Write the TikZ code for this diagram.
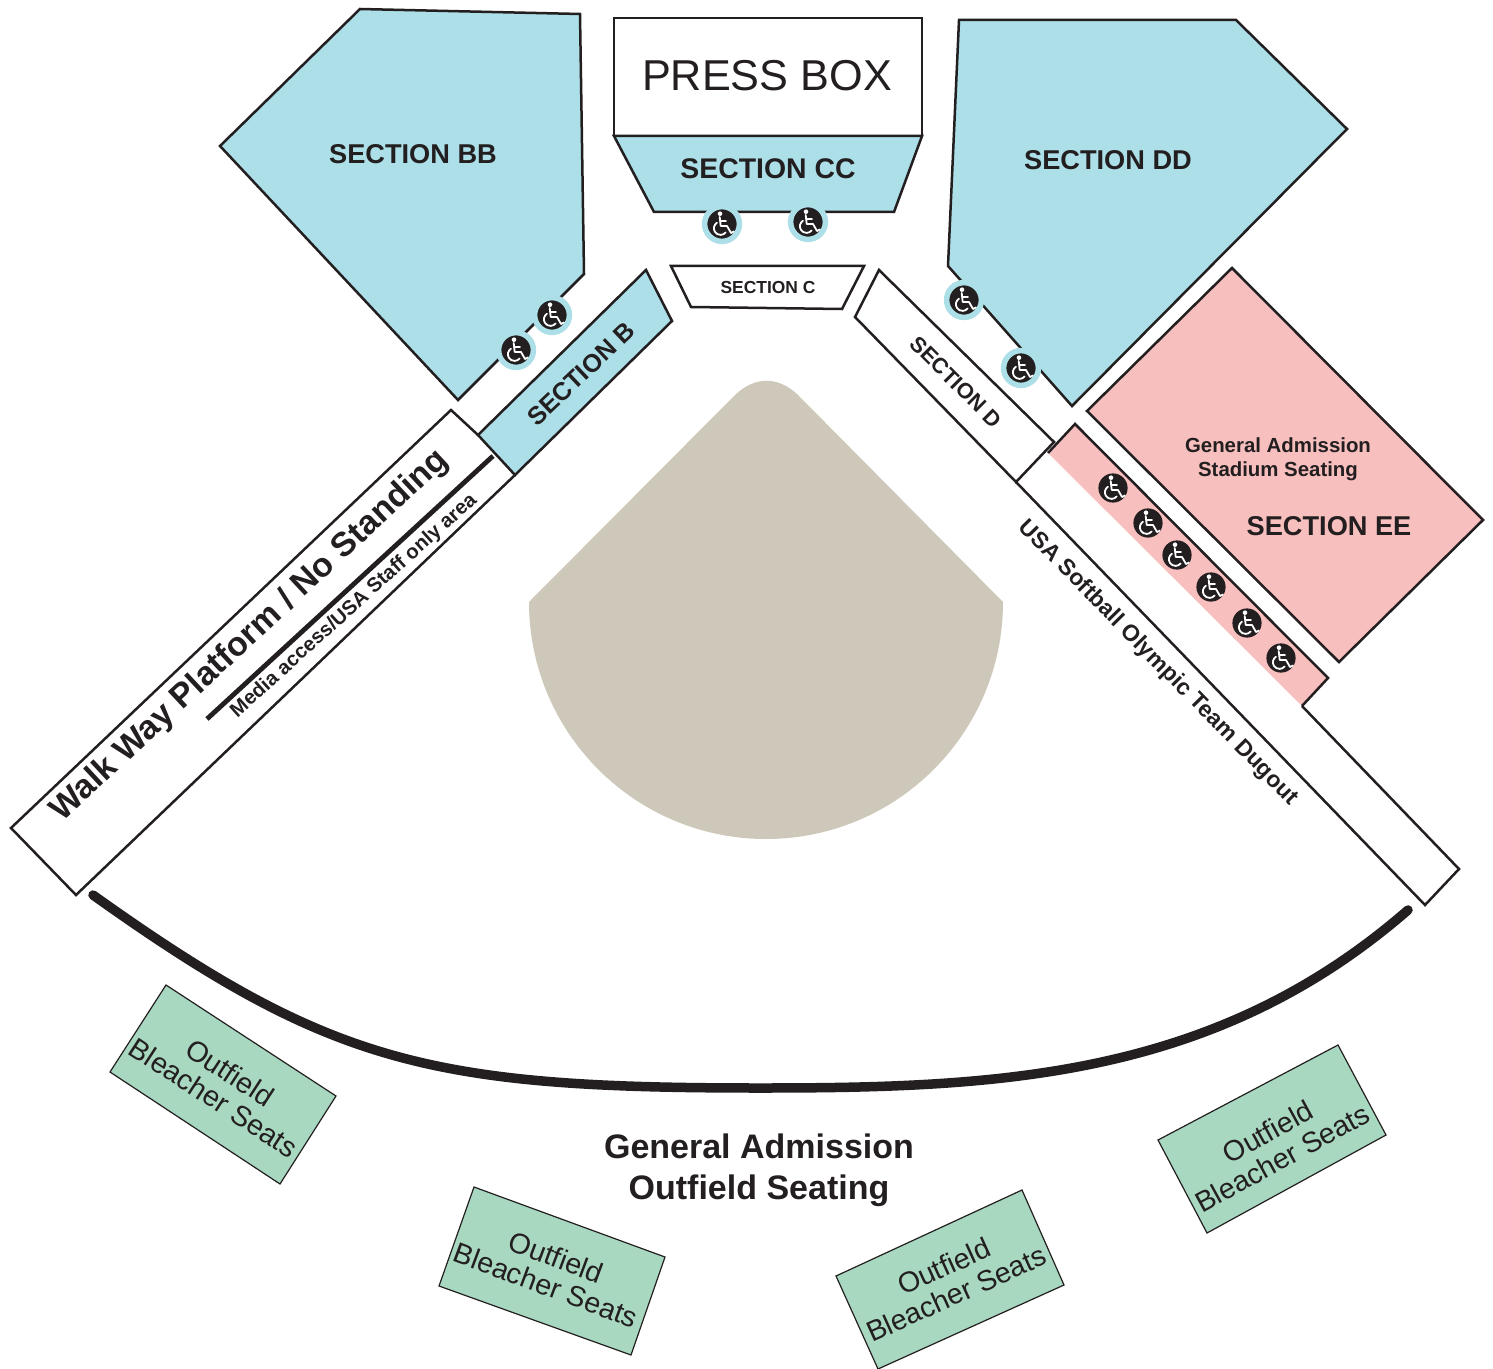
\documentclass[tikz,border=0pt]{standalone}
\usepackage{fontspec}
\setmainfont{Liberation Sans}
\newcommand{\wheelmark}{%
    \begin{scope}[shift={(path picture bounding box.center)}, white, line width=0.9pt, line cap=round, line join=round]
        \fill (-2,-10.3) circle[radius=2.3];
        \draw (-2.3,-7) -- (-1.3,2) -- (5,2) -- (9,9) -- (12,7.5);
        \draw (-1.6,-3.3) -- (4,-3.3);
        \draw (-5,-1.3) arc[start angle=238, end angle=39, radius=6.6];
    \end{scope}}
\definecolor{seatblue}{HTML}{ACDFE8}
\definecolor{seatpink}{HTML}{F8BFBF}
\definecolor{seatgreen}{HTML}{A8D8C0}
\definecolor{fieldtan}{HTML}{CEC8BA}
\definecolor{inkdark}{HTML}{231F20}
\tikzset{
    section/.style={draw=inkdark, line width=1.25pt, line join=miter},
    wheel/.style={circle, fill=inkdark, inner sep=0pt, minimum size=14.6pt, path picture={\wheelmark}},
    wheelring/.style={wheel, draw=seatblue, line width=2.75pt, minimum size=17.4pt},
    bleacher/.style={section, fill=seatgreen, line width=0.6pt},
    bleachertext/.style={text=inkdark, align=center, font=\fontsize{14.3}{15}\selectfont},
    labelbold/.style={text=inkdark, align=center, font=\bfseries\fontsize{#1}{#1}\selectfont},
}
\begin{document}
\begin{tikzpicture}[x=0.5pt, y=-0.5pt]
    \useasboundingbox (0,0) rectangle (1493,1369);

    \draw[section, fill=seatblue] (360,9) -- (580,14) -- (584,274) -- (458,400) -- (220,146) -- cycle;
    \draw[section, fill=white] (614,18) -- (922,18) -- (922,136) -- (614,136) -- cycle;
    \draw[section, fill=seatblue] (614,136) -- (922,136) -- (894,212) -- (654,212) -- cycle;
    \draw[section, fill=seatblue] (959,20) -- (1236,20) -- (1347,129) -- (1072,406) -- (948,266) -- cycle;
    \draw[section, fill=white] (671,266) -- (864,266) -- (842,309) -- (691,307) -- cycle;
    \draw[section, fill=seatblue] (646,270) -- (672,321) -- (515,475) -- (478,435) -- cycle;
    \draw[section, fill=white] (879,270) -- (1054,442) -- (1016,482) -- (855,317) -- cycle;
    \draw[section, fill=seatpink] (1232,268) -- (1483,520) -- (1339,662) -- (1087,411) -- cycle;
    \fill[seatpink] (1075,424) -- (1328,678) -- (1302,706) -- (1048,453) -- cycle;
    \draw[section] (1048,453) -- (1075,424) -- (1328,678) -- (1302,706);
    \draw[section] (1016,482) -- (1425,905) -- (1459,869) -- (1302,706);
    \draw[section] (478,435) -- (451,410) -- (11,828) -- (76,895) -- (515,475);
    \draw[inkdark, line width=2.4pt] (207,719) -- (493,456);

    \fill[fieldtan] (529,602) -- (735,395) .. controls (755,376) and (778,376) .. (798,395) -- (1003,602) arc[start angle=0, end angle=180, radius=237] -- cycle;

    \draw[inkdark, line width=4.75pt, line cap=round] (93,895) .. controls (330,1064) and (430,1088) .. (760,1088) .. controls (1000,1088) and (1215,1078) .. (1408,910);

    \draw[bleacher] (166,985) -- (336,1096) -- (280,1184) -- (110,1072) -- cycle;
    \draw[bleacher] (474,1187) -- (665,1257) -- (631,1355) -- (439,1286) -- cycle;
    \draw[bleacher] (1022,1190) -- (1064,1285) -- (878,1369) -- (836,1276) -- cycle;
    \draw[bleacher] (1338,1045) -- (1386,1135) -- (1207,1233) -- (1158,1140) -- cycle;

    \node[labelbold=13.6] (sectionbb) at (413,154) {SECTION BB};
    \node[text=inkdark, font=\fontsize{21.6}{21.6}\selectfont] (pressbox) at (767,76) {PRESS BOX};
    \node[labelbold=14.2] (sectioncc) at (768,169) {SECTION CC};
    \node[labelbold=13.6] (sectiondd) at (1108,160) {SECTION DD};
    \node[labelbold=8.7] (sectionc) at (768,288) {SECTION C};
    \node[labelbold=12.6, rotate=43.5] (sectionb) at (581,374) {SECTION B};
    \node[labelbold=10.9, rotate=-45] (sectiond) at (956,382) {SECTION D};
    \node[labelbold=10.2] (stadiumseats) at (1278,459) {General Admission\\[2pt]Stadium Seating};
    \node[labelbold=13.6] (sectionee) at (1329,526) {SECTION EE};
    \node[labelbold=16.9, rotate=43] (walkway) at (250,636) {Walk Way Platform / No Standing};
    \node[labelbold=10.1, rotate=42] (media) at (354,606) {Media access/USA Staff only area};
    \node[labelbold=11.5, rotate=-45.5] (dugout) at (1158,663) {USA Softball Olympic Team Dugout};
    \node[labelbold=17] (outfield) at (759,1170) {General Admission\\[3.5pt]Outfield Seating};

    \node[bleachertext, rotate=-33] (bleachera) at (222,1085) {Outfield\\Bleacher Seats};
    \node[bleachertext, rotate=-20.5] (bleacherb) at (551,1271) {Outfield\\Bleacher Seats};
    \node[bleachertext, rotate=24.3] (bleacherc) at (950,1280) {Outfield\\Bleacher Seats};
    \node[bleachertext, rotate=28.7] (bleacherd) at (1275,1145) {Outfield\\Bleacher Seats};

    \node[wheelring] (wheelcca) at (722,224) {};
    \node[wheelring] (wheelccb) at (808,222) {};
    \node[wheelring] (wheelbba) at (552,315) {};
    \node[wheelring] (wheelbbb) at (516,350) {};
    \node[wheelring] (wheeldda) at (964,300) {};
    \node[wheelring] (wheelddb) at (1021,368) {};
    \node[wheel] (wheeleea) at (1113,488) {};
    \node[wheel] (wheeleeb) at (1148,523) {};
    \node[wheel] (wheeleec) at (1177,555) {};
    \node[wheel] (wheeleed) at (1211,587) {};
    \node[wheel] (wheeleee) at (1247,623) {};
    \node[wheel] (wheeleef) at (1281,658) {};
\end{tikzpicture}
\end{document}
